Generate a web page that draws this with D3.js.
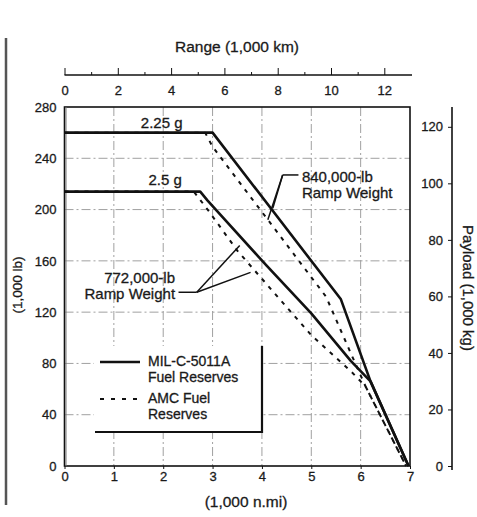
<!DOCTYPE html>
<html>
<head>
<meta charset="utf-8">
<script src="https://cdn.jsdelivr.net/npm/d3@7"></script>
<style>
  html, body { margin: 0; padding: 0; background: #fff; }
  svg { display: block; }
  text { font-family: "Liberation Sans", Arial, sans-serif; fill: #1a1a1a; stroke: #1a1a1a; stroke-width: 0.3px; }
</style>
</head>
<body>
<svg id="chart" width="477" height="517"></svg>
<script>
// ---- Data (range in 1,000 n.mi, payload in 1,000 lb) ----
const bottomTicks = [0, 1, 2, 3, 4, 5, 6, 7];
const leftTicks = [0, 40, 80, 120, 160, 200, 240, 280];
const topTicks = [0, 2, 4, 6, 8, 10, 12];
const topMinorTicks = [1, 3, 5, 7, 9, 11];
const rightTicks = [0, 20, 40, 60, 80, 100, 120];

// 840,000-lb ramp weight (2.25 g)
const mil840 = [[0, 260], [3.0, 260], [5.6, 130], [6.2, 66], [6.97, 0]];
const amc840 = [[0, 260], [2.85, 260], [3.0, 249], [5.3, 132], [5.8, 88], [6.1, 62], [6.92, 0]];
// 772,000-lb ramp weight (2.5 g)
const mil772 = [[0, 214], [2.75, 214], [2.9, 207], [4.1, 156], [5.0, 119], [5.8, 82], [6.2, 66], [6.97, 0]];
const amc772 = [[0, 214], [2.62, 214], [2.9, 200], [3.5, 168], [4.5, 124], [5.0, 102], [5.8, 74], [6.1, 62], [6.92, 0]];

const seriesList = [
  { name: "mil840", pts: mil840, dashed: false },
  { name: "mil772", pts: mil772, dashed: false },
  { name: "amc840", pts: amc840, dashed: true },
  { name: "amc772", pts: amc772, dashed: true }
];

// annotation anchors (data units)
const gLabels = [
  { text: "2.25 g", x: 1.97, y: 264 },
  { text: "2.5 g", x: 2.04, y: 219 }
];
const label840 = { lines: ["840,000-lb", "Ramp Weight"], x: 4.81, y: 221.5 };
const leader840 = { start: [4.74, 227], knee: [4.42, 227], ends: [[4.22, 201], [4.12, 192]] };
const label772 = { lines: ["772,000-lb", "Ramp Weight"], x: 2.24, y: 142.5 };
const leader772 = { start: [2.31, 135.5], knee: [2.68, 135.5], ends: [[3.55, 172], [3.77, 151]] };

const legendItems = [
  { lines: ["MIL-C-5011A", "Fuel Reserves"], dashed: false },
  { lines: ["AMC Fuel", "Reserves"], dashed: true }
];

// ---- Layout ----
const L = 64.5, R = 410, T = 107, B = 466;
const NMI_TO_KM = 1.852, LB_TO_KG = 0.45359237;

const x = d3.scaleLinear().domain([0, 7]).range([L, R]);
const y = d3.scaleLinear().domain([0, 280]).range([B, T]);
const xKm = d3.scaleLinear().domain([0, 7 * NMI_TO_KM]).range([L, R]);
const yKg = d3.scaleLinear().domain([0, 280 * LB_TO_KG]).range([B, T]);

const svg = d3.select("#chart");

// scan edge artifact on the left
svg.append("line").attr("x1", 6).attr("x2", 6).attr("y1", 38).attr("y2", 505)
  .attr("stroke", "#555").attr("stroke-width", 2.5);

// gridlines
const grid = svg.append("g").attr("stroke", "#a0a0a0").attr("stroke-width", 1)
  .attr("stroke-dasharray", "9,3,2,3");
grid.selectAll("line.v").data(bottomTicks.filter(d => d > 0 && d < 7)).join("line")
  .attr("x1", d => x(d)).attr("x2", d => x(d)).attr("y1", T).attr("y2", B);
grid.selectAll("line.h").data(leftTicks.filter(d => d > 0 && d < 280)).join("line")
  .attr("y1", d => y(d)).attr("y2", d => y(d)).attr("x1", L).attr("x2", R);

// frame
svg.append("rect").attr("x", L).attr("y", T).attr("width", R - L).attr("height", B - T)
  .attr("fill", "none").attr("stroke", "#111").attr("stroke-width", 1.6);
svg.append("line").attr("x1", L + 1.5).attr("x2", L + 1.5).attr("y1", T).attr("y2", B)
  .attr("stroke", "#777").attr("stroke-width", 1);

// axes
function styleAxis(g, size) {
  g.selectAll("text").style("font-size", size + "px").attr("fill", "#1a1a1a");
  g.selectAll("line").attr("stroke", "#111");
  g.selectAll("path.domain").attr("stroke", "#111");
}
const gBottom = svg.append("g").attr("transform", `translate(0,${B})`)
  .call(d3.axisBottom(x).tickValues(bottomTicks).tickFormat(d3.format("d")).tickSize(3).tickPadding(3));
gBottom.select(".domain").remove();
styleAxis(gBottom, 13);

const gLeft = svg.append("g").attr("transform", `translate(${L},0)`)
  .call(d3.axisLeft(y).tickValues(leftTicks).tickFormat(d3.format("d")).tickSize(0).tickPadding(8));
gLeft.select(".domain").remove();
styleAxis(gLeft, 13);

const gTop = svg.append("g").attr("transform", "translate(0,75)")
  .call(d3.axisBottom(xKm).tickValues(topTicks).tickFormat(d3.format("d")).tickSizeInner(-7).tickSizeOuter(0).tickPadding(11));
gTop.select(".domain").attr("d", `M${L},0H${R + 2}`).attr("stroke-width", 1.6);
styleAxis(gTop, 13);
const gTopMinor = svg.append("g").attr("transform", "translate(0,75)")
  .call(d3.axisBottom(xKm).tickValues(topMinorTicks).tickFormat("").tickSizeInner(-3).tickSizeOuter(0));
gTopMinor.select(".domain").remove();
styleAxis(gTopMinor, 13);

const gRight = svg.append("g").attr("transform", "translate(452,0)")
  .call(d3.axisLeft(yKg).tickValues(rightTicks).tickFormat(d3.format("d")).tickSize(4).tickPadding(5));
gRight.select(".domain").attr("d", `M0,${T}V${B + 4}`).attr("stroke-width", 1.6);
styleAxis(gRight, 13);

// axis titles
svg.append("text").attr("x", 237).attr("y", 52).attr("text-anchor", "middle")
  .style("font-size", "15.5px").text("Range (1,000 km)");
svg.append("text").attr("x", 246).attr("y", 507).attr("text-anchor", "middle")
  .style("font-size", "15.5px").text("(1,000 n.mi)");
svg.append("text").attr("transform", "translate(22,285) rotate(-90)").attr("text-anchor", "middle")
  .style("font-size", "13.5px").text("(1,000 lb)");
svg.append("text").attr("transform", "translate(463,288) rotate(90)").attr("text-anchor", "middle")
  .style("font-size", "15px").text("Payload (1,000 kg)");

// series
const line = d3.line().x(d => x(d[0])).y(d => y(d[1]));
svg.append("g").selectAll("path").data(seriesList).join("path")
  .attr("d", d => line(d.pts))
  .attr("fill", "none")
  .attr("stroke", "#111")
  .attr("stroke-width", d => d.dashed ? 2 : 2.6)
  .attr("stroke-linejoin", "round")
  .attr("stroke-dasharray", d => d.dashed ? "4,6" : null);

// annotations
svg.append("g").selectAll("text").data(gLabels).join("text")
  .attr("x", d => x(d.x)).attr("y", d => y(d.y)).attr("text-anchor", "middle")
  .style("font-size", "15px").text(d => d.text);

function multiLabel(lbl, anchor) {
  const t = svg.append("text").attr("x", x(lbl.x)).attr("y", y(lbl.y))
    .attr("text-anchor", anchor).style("font-size", "15px");
  lbl.lines.forEach((s, i) => t.append("tspan").attr("x", x(lbl.x)).attr("dy", i ? 16 : 0).text(s));
}
multiLabel(label840, "start");
multiLabel(label772, "end");

function leader(ld) {
  const g = svg.append("g").attr("stroke", "#111").attr("stroke-width", 1.5).attr("fill", "none");
  g.append("line").attr("x1", x(ld.start[0])).attr("y1", y(ld.start[1]))
    .attr("x2", x(ld.knee[0])).attr("y2", y(ld.knee[1]));
  ld.ends.forEach(e => g.append("line").attr("x1", x(ld.knee[0])).attr("y1", y(ld.knee[1]))
    .attr("x2", x(e[0])).attr("y2", y(e[1])));
}
leader(leader840);
leader(leader772);

// legend
const lg = svg.append("g");
lg.append("rect").attr("x", 94).attr("y", 346).attr("width", 168).attr("height", 86).attr("fill", "#fff");
lg.append("path").attr("d", "M262,346V432H95").attr("fill", "none").attr("stroke", "#111").attr("stroke-width", 2.2);
legendItems.forEach((it, i) => {
  const yy = 362 + i * 37;
  lg.append("line").attr("x1", 100).attr("x2", 140).attr("y1", yy).attr("y2", yy)
    .attr("stroke", "#111").attr("stroke-width", it.dashed ? 2 : 2.6)
    .attr("stroke-dasharray", it.dashed ? "4,7" : null);
  const t = lg.append("text").attr("x", 148).attr("y", yy + 4).style("font-size", "14px");
  it.lines.forEach((s, j) => t.append("tspan").attr("x", 148).attr("dy", j ? 16 : 0).text(s));
});
</script>
</body>
</html>
